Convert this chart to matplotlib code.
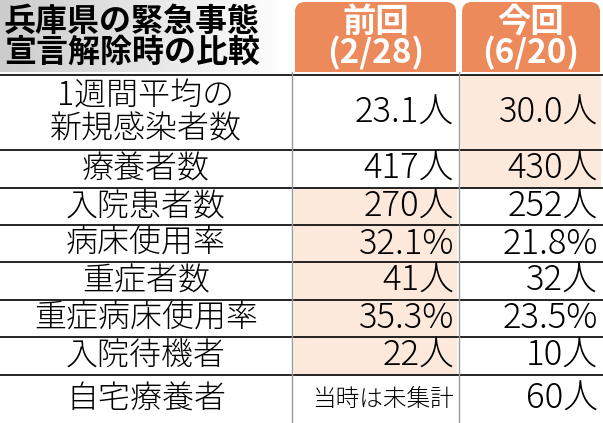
import matplotlib
matplotlib.use("Agg")
import matplotlib.pyplot as plt
from matplotlib.patches import Rectangle, FancyBboxPatch
import numpy as np

plt.rcParams['font.family'] = ['Noto Sans CJK JP', 'DejaVu Sans']

title = "兵庫県の緊急事態\n宣言解除時の比較"
col_heads = ["前回\n(2/28)", "今回\n(6/20)"]
row_labels = ["1週間平均の\n新規感染者数", "療養者数", "入院患者数", "病床使用率", "重症者数",
              "重症病床使用率", "入院待機者", "自宅療養者"]
prev_vals = ["23.1人", "417人", "270人", "32.1%", "41人", "35.3%", "22人", "当時は未集計"]
curr_vals = ["30.0人", "430人", "252人", "21.8%", "32人", "23.5%", "10人", "60人"]
highlight = [2, 2, 1, 1, 1, 1, 1, 0]  # which column is larger (1=prev, 2=curr)

W, H = 603, 423
fig = plt.figure(figsize=(W/100, H/100), dpi=100)
ax = fig.add_axes([0, 0, 1, 1])
ax.set_xlim(0, W); ax.set_ylim(H, 0); ax.axis('off')

cx = [0, 292, 459, 603]
row_tops = [75, 150, 188, 225, 262, 300, 337, 375, 423]
orange = "#ec8a5c"; peach = "#fde8dc"

# header
grad = np.linspace(0.80, 1.0, 100).reshape(1, -1)
ax.imshow(np.dstack([grad]*3), extent=[0, 288, 72, 0], aspect='auto', zorder=0)
ax.text(4, 37, title, fontsize=23, fontweight='bold', va='center', ha='left', linespacing=0.95)
for j, h in enumerate(col_heads):
    x0, x1 = cx[j+1] + 3, cx[j+2] - 3
    ax.add_patch(FancyBboxPatch((x0, 2), x1 - x0, 90, boxstyle="round,pad=0,rounding_size=10",
                                fc=orange, ec='none', zorder=1))
    ax.text((x0 + x1)/2, 38, h, fontsize=24, fontweight='bold', color='white',
            ha='center', va='center', linespacing=0.9, zorder=3)
ax.add_patch(Rectangle((0, 72), W, H, fc='white', ec='none', zorder=2))

for i, lab in enumerate(row_labels):
    y0, y1 = row_tops[i], row_tops[i+1]
    yc = (y0 + y1)/2
    if highlight[i]:
        c = highlight[i]
        ax.add_patch(Rectangle((cx[c] + 2, y0), cx[c+1] - cx[c] - 4, y1 - y0, fc=peach, ec='none', zorder=2.5))
    ax.text(cx[1]/2, yc, lab, fontsize=23, fontweight='light', ha='center', va='center',
            linespacing=0.95, zorder=3)
    pv = prev_vals[i]
    ax.text(cx[2] - 5, yc, pv, fontsize=17 if pv == "当時は未集計" else 25, fontweight='light',
            ha='right', va='center', zorder=3)
    ax.text(cx[3] - 5, yc, curr_vals[i], fontsize=25, fontweight='light', ha='right', va='center', zorder=3)
    ax.plot([0, W], [y0, y0], color='black', lw=1.2, zorder=4)
for x in cx[1:3]:
    ax.plot([x, x], [72, H], color='#999999', lw=1, zorder=4)

fig.savefig("out.png", dpi=100)
